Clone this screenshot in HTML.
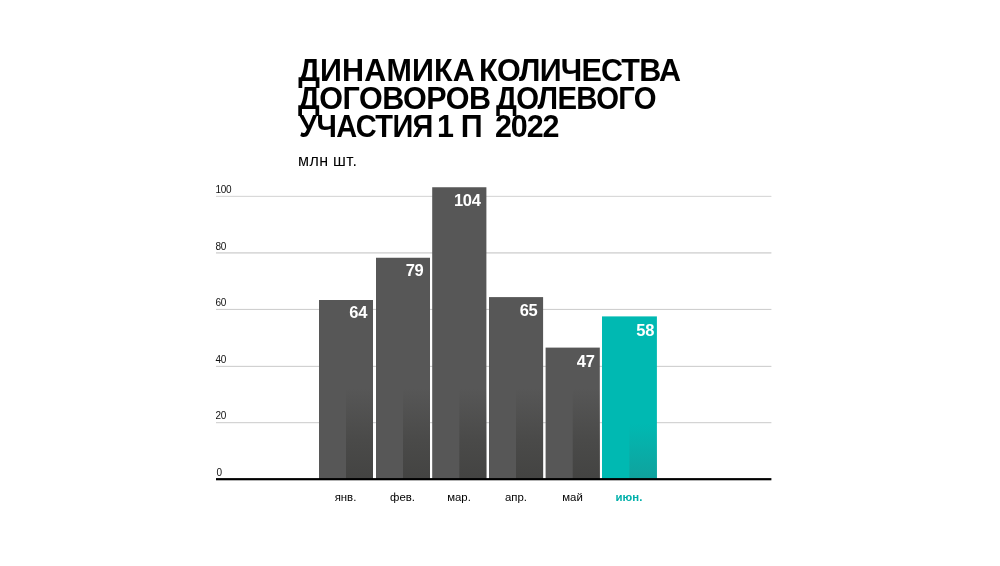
<!DOCTYPE html>
<html lang="ru">
<head>
<meta charset="utf-8">
<title>Динамика количества договоров долевого участия</title>
<style>
html,body{margin:0;padding:0;background:#fff;}
body{width:1000px;height:566px;position:relative;overflow:hidden;font-family:"Liberation Sans",sans-serif;color:#000;}
.txt{position:absolute;left:0;top:0;width:1000px;height:566px;will-change:transform;}
svg.chart{position:absolute;left:0;top:0;width:1000px;height:566px;}
h1{position:absolute;left:0;top:0;margin:0;font-size:30.5px;line-height:30px;font-weight:bold;white-space:nowrap;color:#000;}
h1 span{position:absolute;display:block;white-space:nowrap;}
.unit{position:absolute;left:298px;top:151.5px;font-size:16px;line-height:18px;letter-spacing:0.5px;word-spacing:-0.6px;color:#000;white-space:nowrap;}
.yl{position:absolute;left:215.5px;font-size:10px;line-height:10px;color:#111;letter-spacing:-0.3px;}
.v{position:absolute;font-size:16.5px;line-height:16px;font-weight:bold;color:#fff;letter-spacing:-0.35px;white-space:nowrap;text-align:right;width:40px;}
.xl{position:absolute;top:489.8px;width:56px;text-align:center;font-size:11.4px;line-height:14px;color:#000;white-space:nowrap;}
.xl.t{color:#00b0aa;font-weight:bold;}
</style>
</head>
<body>
<svg class="chart" viewBox="0 0 1000 566">
  <defs>
    <linearGradient id="gd" x1="0" y1="0" x2="0" y2="1">
      <stop offset="0" stop-color="#3e3e3c" stop-opacity="0"/>
      <stop offset="0.55" stop-color="#3e3e3c" stop-opacity="0.5"/>
      <stop offset="1" stop-color="#3e3e3c" stop-opacity="0.78"/>
    </linearGradient>
    <linearGradient id="gt" x1="0" y1="0" x2="0" y2="1">
      <stop offset="0" stop-color="#159a96" stop-opacity="0"/>
      <stop offset="1" stop-color="#159a96" stop-opacity="0.75"/>
    </linearGradient>
  </defs>
  <g fill="#cacaca">
    <rect x="216" y="195.85" width="555.4" height="0.95" fill="#d0d0d0"/>
    <rect x="216" y="252.3" width="555.4" height="1.2"/>
    <rect x="216" y="308.9" width="555.4" height="1"/>
    <rect x="216" y="365.85" width="555.4" height="1"/>
    <rect x="216" y="422.2" width="555.4" height="1"/>
  </g>
  <g fill="#575757">
    <rect x="319.0" y="300.0" width="54.0" height="179"/>
    <rect x="376.0" y="257.75" width="54.0" height="222"/>
    <rect x="432.2" y="187.25" width="54.2" height="292"/>
    <rect x="489.0" y="297.1" width="54.1" height="182"/>
    <rect x="545.6" y="347.6" width="54.2" height="132"/>
  </g>
  <rect x="602.0" y="316.4" width="54.9" height="163" fill="#00b9b2"/>
  <g fill="url(#gd)">
    <rect x="346.0" y="388" width="27.0" height="91"/>
    <rect x="403.0" y="388" width="27.0" height="91"/>
    <rect x="459.3" y="388" width="27.1" height="91"/>
    <rect x="516.0" y="388" width="27.1" height="91"/>
    <rect x="572.7" y="388" width="27.1" height="91"/>
  </g>
  <rect x="629.4" y="424" width="27.5" height="55" fill="url(#gt)"/>
  <rect x="216" y="478.1" width="555.4" height="2.2" fill="#000"/>
</svg>

<div class="txt">
<h1>
<span style="left:298.2px;top:55.2px;letter-spacing:0.14px">ДИНАМИКА</span>
<span style="left:479.1px;top:55.2px;letter-spacing:-0.81px">КОЛИЧЕСТВА</span>
<span style="left:298.0px;top:83.4px;letter-spacing:-0.45px">ДОГОВОРОВ</span>
<span style="left:496.0px;top:83.4px;letter-spacing:-0.68px;transform:scaleX(0.96);transform-origin:0 0">ДОЛЕВОГО</span>
<span style="left:298.8px;top:111.0px;letter-spacing:-0.65px;transform:scaleX(0.95);transform-origin:0 0">УЧАСТИЯ</span>
<span style="left:437.0px;top:111.0px">1</span>
<span style="left:460.8px;top:111.0px">П</span>
<span style="left:495.0px;top:111.0px;letter-spacing:-1.1px">2022</span>
</h1>
<div class="unit">млн шт.</div>

<div class="yl" style="top:185.3px">100</div>
<div class="yl" style="top:241.8px">80</div>
<div class="yl" style="top:298.3px">60</div>
<div class="yl" style="top:354.8px">40</div>
<div class="yl" style="top:411.3px">20</div>
<div class="yl" style="top:467.8px;left:216.5px">0</div>

<div class="v" style="left:327.0px;top:304.4px">64</div>
<div class="v" style="left:383.3px;top:262.0px">79</div>
<div class="v" style="left:440.5px;top:192.0px">104</div>
<div class="v" style="left:497.4px;top:302.0px">65</div>
<div class="v" style="left:554.5px;top:352.5px">47</div>
<div class="v" style="left:614.0px;top:321.8px">58</div>

<div class="xl" style="left:317.5px">янв.</div>
<div class="xl" style="left:374.5px">фев.</div>
<div class="xl" style="left:431px">мар.</div>
<div class="xl" style="left:488px">апр.</div>
<div class="xl" style="left:544.5px">май</div>
<div class="xl t" style="left:601px">июн.</div>
</div>
</body>
</html>
